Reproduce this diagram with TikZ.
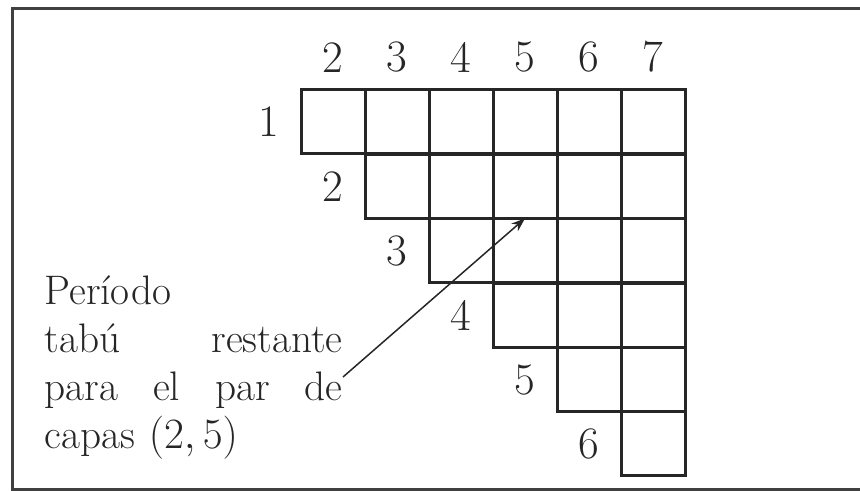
\documentclass[tikz,border=0pt]{standalone}
\usepackage{amsmath}
\usepackage{tikz}
\usetikzlibrary{arrows.meta, positioning}

\begin{document}
\begin{tikzpicture}[
  x=0.4pt, y=-0.4pt,
  cell/.style={rectangle, draw=black!85, line width=1.2pt,
               minimum size=25.6pt, inner sep=0pt, outer sep=0pt},
  lbl/.style={inner sep=0pt, text=black!85,
              font=\fontsize{18}{21}\selectfont},
  note/.style={inner sep=0pt, text width=119.2pt, align=left, text=black!85,
               font=\fontsize{16.5}{19.2}\selectfont},
  frame/.style={draw=black!75, line width=1.2pt},
  arrow/.style={-{Stealth[length=5.5pt, width=4pt]}, line width=0.6pt, black!85}
]
\useasboundingbox (0,0) rectangle (860,491);

% outer frame
\draw[frame] (860,9) -- (12,9) -- (12,489.5) -- (860,489.5);

% triangular grid of layer pairs
\foreach \r in {1,...,6} {
  \pgfmathtruncatemacro\first{\r+1}
  \foreach \c in {\first,...,7} {
    \node[cell] (c\r\c) at ({333+(\c-2)*64}, {122+(\r-1)*64.4}) {};
  }
  \node[lbl, left=8.4pt of c\r\first] (row\r) {\r};
}
\foreach \c in {2,...,7}
  \node[lbl, above=6.8pt of c1\c] (col\c) {\c};

% explanation
\node[note, anchor=north west] (txt) at (44,275)
  {Período\\
   tabú\hfill restante\\
   para\hfill el\hfill par\hfill de\\
   capas $(2,5)$};
\coordinate (tail) at (343,377);
\draw[arrow] (tail) -- (c25.south);

\end{tikzpicture}
\end{document}
